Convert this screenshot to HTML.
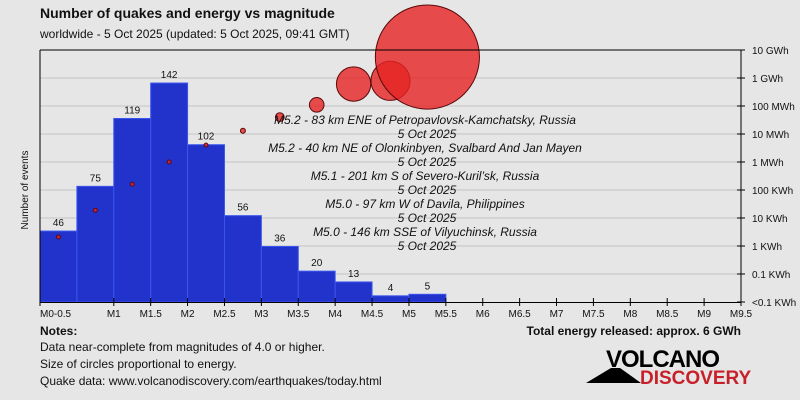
<!DOCTYPE html>
<html><head><meta charset="utf-8"><style>
body{margin:0;background:#e6e6e6;}
svg{display:block;font-family:"Liberation Sans",sans-serif;}
</style></head><body>
<svg id="c" width="800" height="400" viewBox="0 0 800 400">
<rect width="800" height="400" fill="#e6e6e6"/>
<text x="40" y="18" font-size="14" font-weight="bold" fill="#111">Number of quakes and energy vs magnitude</text>
<text x="40" y="38" font-size="12" fill="#111">worldwide -  5 Oct 2025 (updated: 5 Oct 2025, 09:41 GMT)</text>
<g id="grid"></g>
<g id="bars"></g>
<g id="circles"></g>
<g id="axes"></g>
<g id="notes"></g>
<text x="13" y="175" font-size="10" fill="#111" text-anchor="middle" transform="rotate(-90 28 175)">Number of events</text>
<text x="40" y="335" font-size="12" font-weight="bold" fill="#111">Notes:</text>
<text x="40" y="351" font-size="12" fill="#111">Data near-complete from magnitudes of 4.0 or higher.</text>
<text x="40" y="368" font-size="12" fill="#111">Size of circles proportional to energy.</text>
<text x="40" y="385" font-size="12" fill="#111">Quake data: www.volcanodiscovery.com/earthquakes/today.html</text>
<text x="741" y="335" font-size="12" font-weight="bold" fill="#111" text-anchor="end">Total energy released: approx. 6 GWh</text>
<g>
<polygon points="586,383 611,368 620,368 641,383" fill="#000"/>
<text x="606" y="367" font-size="24" font-weight="bold" fill="#000" letter-spacing="-1">VOLCANO</text>
<text x="640" y="384" font-size="19" font-weight="bold" fill="#c8202a">DISCOVERY</text>
</g>
</svg>
<script>
const binLabels=["M0-0.5","M1","M1.5","M2","M2.5","M3","M3.5","M4","M4.5","M5","M5.5","M6","M6.5","M7","M7.5","M8","M8.5","M9","M9.5"];
const counts=[46,75,119,142,102,56,36,20,13,4,5];
const energyKWh=[2.1,19,160,1000,4000,13000,40000,110000,610000,790000,5600000];
const energyTicks=["10 GWh","1 GWh","100 MWh","10 MWh","1 MWh","100 KWh","10 KWh","1 KWh","0.1 KWh","<0.1 KWh"];
const quakeNotes=["M5.2 - 83 km ENE of Petropavlovsk-Kamchatsky, Russia","M5.2 - 40 km NE of Olonkinbyen, Svalbard And Jan Mayen","M5.1 - 201 km S of Severo-Kuril’sk, Russia","M5.0 - 97 km W of Davila, Philippines","M5.0 - 146 km SSE of Vilyuchinsk, Russia"];
const noteDate="5 Oct 2025";
const NS="http://www.w3.org/2000/svg";
const L=40,R=741,T=50,B=302,nB=19,bw=(R-L)/nB;
const xAt=i=>L+i*bw;
const yCount=v=>B-v*1.542;
const yEnergy=e=>B-28*(Math.log10(e)+2);
const rEnergy=e=>Math.max(2,0.022*Math.sqrt(e));
function mk(tag,attrs,parent){const el=document.createElementNS(NS,tag);for(const k in attrs)el.setAttribute(k,attrs[k]);parent.appendChild(el);return el;}
const grid=document.getElementById('grid'),axes=document.getElementById('axes'),bars=document.getElementById('bars'),circ=document.getElementById('circles'),notes=document.getElementById('notes');
energyTicks.forEach((t,i)=>{const y=T+i*(B-T)/(energyTicks.length-1);
 if(i>0&&i<energyTicks.length-1){const g=mk('line',{x1:L,x2:R,y1:y,y2:y,stroke:'#c4c4c4','stroke-width':1},grid);}
 const tk=mk('line',{x1:R-4,x2:R+4,y1:y,y2:y,stroke:'#000'},axes);
 const tx=mk('text',{x:R+11,y:y+4,'font-size':10,fill:'#111'},axes);tx.textContent=t;});
counts.forEach((c,i)=>{const y=yCount(c);
 const r=mk('rect',{x:xAt(i),y:y,width:bw,height:B-y,fill:'#2233cc',stroke:'#3a55ee','stroke-width':1},bars);
 const t=mk('text',{x:xAt(i)+bw/2,y:y-5,'font-size':10,fill:'#111','text-anchor':'middle'},bars);t.textContent=c;});
energyKWh.forEach((e,i)=>{const c=mk('circle',{cx:xAt(i)+bw/2,cy:yEnergy(e),r:rEnergy(e),fill:'rgba(230,35,35,0.8)',stroke:'#5a0a0a','stroke-width':1},circ);});
mk('line',{x1:L,x2:R,y1:T,y2:T,stroke:'#000'},axes);
mk('line',{x1:L,x2:L,y1:T,y2:B,stroke:'#000'},axes);
mk('line',{x1:R,x2:R,y1:T,y2:B,stroke:'#000'},axes);
mk('line',{x1:L,x2:R,y1:B+0.5,y2:B+0.5,stroke:'#000'},axes);
binLabels.forEach((t,i)=>{const x=xAt(i+(i==0?0:1));
 if(i>0){const tk=mk('line',{x1:x,x2:x,y1:B-4,y2:B+4,stroke:'#000'},axes);}
 const tx=mk('text',{x:i==0?L:x,y:B+15,'font-size':10,fill:'#111','text-anchor':i==0?'start':'middle'},axes);tx.textContent=t;});
const fk=mk('line',{x1:L,x2:L,y1:B-4,y2:B+4,stroke:'#000'},axes);
quakeNotes.forEach((n,i)=>{const y=124+i*28;
 const a=mk('text',{x:425,y:y,'font-size':12,'font-style':'italic',fill:'#111','text-anchor':'middle'},notes);a.textContent=n;
 const d=mk('text',{x:427,y:y+14,'font-size':12,'font-style':'italic',fill:'#111','text-anchor':'middle'},notes);d.textContent=noteDate;});
</script>
</body></html>
